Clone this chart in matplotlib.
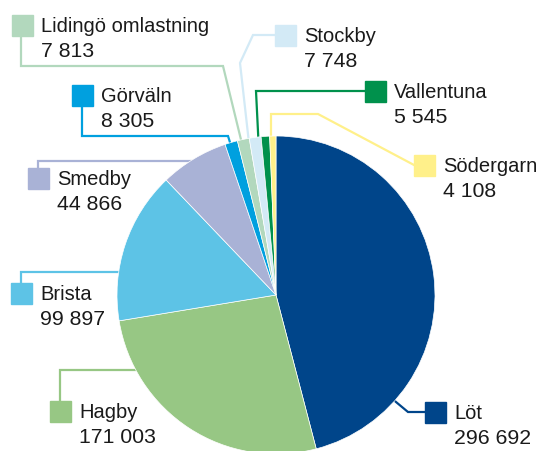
import matplotlib
matplotlib.use('Agg')
import matplotlib.pyplot as plt
from matplotlib.patches import Rectangle

# data: clockwise from 12 o'clock
names = ['Löt', 'Hagby', 'Brista', 'Smedby', 'Görväln',
         'Lidingö omlastning', 'Stockby', 'Vallentuna', 'Södergarn']
values = [296692, 171003, 99897, 44866, 8305, 7813, 7748, 5545, 4108]
colors = ['#00458a', '#97c784', '#5dc3e6', '#a9b2d6', '#00a0df',
          '#b2d8bd', '#d3eaf6', '#00914c', '#fff08a']

# label layout in image pixels (top-left of colour square)
squares = [(425, 402), (50, 401), (11, 283), (28, 168), (72, 85),
           (12, 15), (275, 25), (365, 81), (414, 155)]
leaders = [
    [(425, 412), (408, 412), (396, 402), (385, 392)],
    [(60, 401), (60, 370), (145, 370)],
    [(21, 283), (21, 272), (130, 272)],
    [(38, 168), (38, 161), (205, 161)],
    [(82, 106), (82, 136), (228, 136), (233, 152)],
    [(21, 36), (21, 66), (223, 66), (244, 152)],
    [(275, 35), (253, 35), (240, 63), (250, 152)],
    [(365, 91), (256, 91), (259, 152)],
    [(414, 165), (318, 114), (271, 114), (271, 152)],
]

W, H = 543, 451
SQ = 21


def fmt(v):
    return f'{v:,}'.replace(',', ' ')


plt.rcParams['font.family'] = ['Liberation Sans', 'DejaVu Sans']
fig = plt.figure(figsize=(W / 100, H / 100), dpi=100)
ax = fig.add_axes([0, 0, 1, 1])

# leader lines below the pie
for pts, c in zip(leaders, colors):
    xs = [p[0] for p in pts]
    ys = [H - p[1] for p in pts]
    ax.plot(xs, ys, color=c, lw=1.6, solid_joinstyle='miter', zorder=1)

ax.pie(values, colors=colors, startangle=90, counterclock=False,
       center=(276, H - 295), radius=159, frame=True,
       wedgeprops=dict(edgecolor='white', linewidth=0.5, zorder=2))
ax.set_xlim(0, W)
ax.set_ylim(0, H)
ax.set_aspect('equal')
ax.axis('off')

for (sx, sy), name, v, c in zip(squares, names, values, colors):
    ax.add_patch(Rectangle((sx, H - sy - SQ), SQ, SQ, color=c, zorder=3))
    ax.text(sx + 29, H - sy - 17, name, fontsize=14.5, color='#1a1a1a',
            va='baseline', ha='left')
    ax.text(sx + 29, H - sy - 42, fmt(v), fontsize=15.3, color='#1a1a1a',
            va='baseline', ha='left')

fig.savefig('out.png', dpi=100)
